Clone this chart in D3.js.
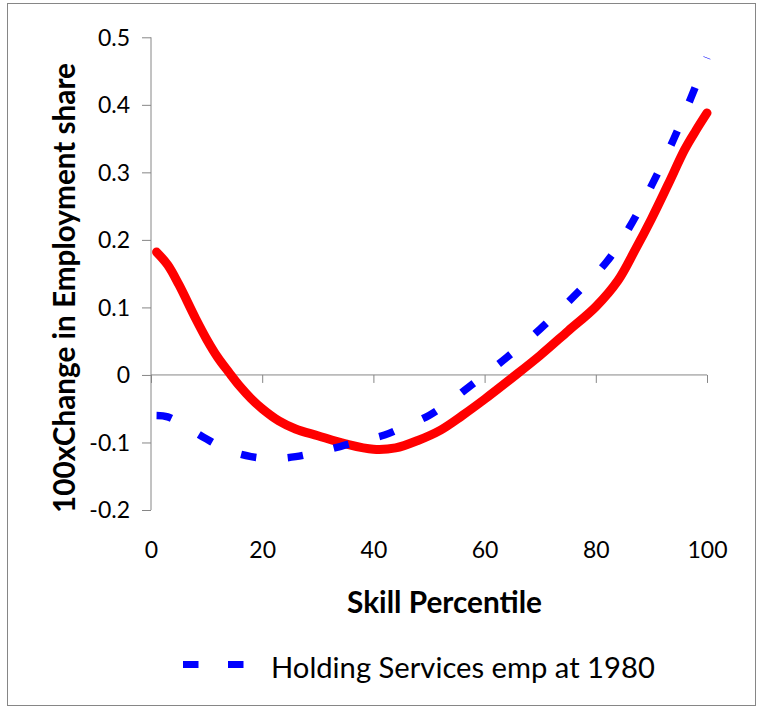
<!DOCTYPE html>
<html>
<head>
<meta charset="utf-8">
<script src="https://cdn.jsdelivr.net/npm/d3@7"></script>
<style>
  html, body { margin: 0; padding: 0; background: #fff; }
  svg { display: block; }
  text { font-family: Lato, "Open Sans", sans-serif; fill: #000; }
</style>
</head>
<body>
<svg id="chart" width="761" height="707"></svg>
<script>
// ---- data ----
const redX = [1, 3, 5, 8, 10, 12, 14, 16, 18, 20, 23, 26, 30, 35, 40, 44, 48, 52, 56, 60, 65, 70, 75, 80, 84, 87, 90, 93, 96, 98, 100];
const redY = [0.182, 0.163, 0.134, 0.084, 0.053, 0.026, 0.004, -0.017, -0.035, -0.050, -0.068, -0.080, -0.090, -0.102, -0.110, -0.108, -0.097, -0.082, -0.060, -0.036, -0.004, 0.029, 0.065, 0.101, 0.140, 0.184, 0.231, 0.282, 0.334, 0.362, 0.388];
const blueX = [1, 3, 6, 10, 14, 18, 22, 26, 30, 34, 38, 42, 46, 50, 54, 57, 60, 64, 70, 76, 82, 86, 90, 94, 97, 100];
const blueY = [-0.060, -0.062, -0.075, -0.095, -0.112, -0.121, -0.124, -0.121, -0.114, -0.106, -0.097, -0.089, -0.075, -0.060, -0.038, -0.019, 0.000, 0.026, 0.068, 0.116, 0.168, 0.218, 0.280, 0.349, 0.408, 0.470];
const xTicks = [0, 20, 40, 60, 80, 100];
const yTicks = [-0.2, -0.1, 0, 0.1, 0.2, 0.3, 0.4, 0.5];
const yTickLabels = ["-0.2", "-0.1", "0", "0.1", "0.2", "0.3", "0.4", "0.5"];
const xTitle = "Skill Percentile";
const yTitle = "100xChange in Employment share";
const legendLabel = "Holding Services emp at 1980";

// ---- layout ----
const svg = d3.select("#chart");
const axisColor = "#868686";
const x = d3.scaleLinear().domain([0, 100]).range([151, 707]);
const y = d3.scaleLinear().domain([-0.2, 0.5]).range([510, 37.3]);

function fitWidth(sel, w) {
  const L = sel.node().getComputedTextLength();
  const fs = parseFloat(sel.attr("font-size"));
  sel.attr("font-size", fs * w / L);
}

// outer border
svg.append("rect").attr("x", 7.5).attr("y", 3.5).attr("width", 748).attr("height", 702)
  .attr("fill", "none").attr("stroke", axisColor).attr("stroke-width", 1);

// y axis
const yAxis = d3.axisLeft(y).tickValues(yTicks).tickSize(9).tickPadding(12)
  .tickFormat((d, i) => yTickLabels[i]);
const gy = svg.append("g").attr("transform", `translate(${x(0)},0)`).call(yAxis);
gy.select(".domain").attr("stroke", axisColor).attr("d", `M-0,${y(0.5)}V${y(-0.2)}`);
gy.selectAll(".tick line").attr("stroke", axisColor);
gy.selectAll(".tick text").attr("font-size", 23).attr("font-family", "Lato").attr("fill", "#000").attr("dy", "0.34em");

// x axis at y = 0, labels below plot
const xAxis = d3.axisBottom(x).tickValues(xTicks).tickSize(8).tickFormat(d3.format("d"));
const gx = svg.append("g").attr("transform", `translate(0,${y(0)})`).call(xAxis);
gx.select(".domain").attr("stroke", axisColor).attr("d", `M${x(0)},0H${x(100)}`);
gx.selectAll(".tick line").attr("stroke", axisColor);
gx.selectAll(".tick text").attr("font-size", 23).attr("font-family", "Lato").attr("fill", "#000")
  .attr("y", 558 - y(0)).attr("dy", 0);

// lines
const redData = redX.map((v, i) => [v, redY[i]]);
const blueData = blueX.map((v, i) => [v, blueY[i]]);
const line = d3.line().x(d => x(d[0])).y(d => y(d[1])).curve(d3.curveCatmullRom.alpha(0.5));

svg.append("path").datum(redData).attr("d", line)
  .attr("fill", "none").attr("stroke", "#ff0000").attr("stroke-width", 9)
  .attr("stroke-linecap", "round").attr("stroke-linejoin", "round");
svg.append("path").datum(blueData).attr("d", line)
  .attr("fill", "none").attr("stroke", "#0000ff").attr("stroke-width", 7.5)
  .attr("stroke-dasharray", "15.5,31.5").attr("stroke-linecap", "butt");

// axis titles
const xt = svg.append("text").attr("x", 444.5).attr("y", 613).attr("text-anchor", "middle")
  .attr("font-weight", "bold").attr("font-size", 24).text(xTitle);
fitWidth(xt, 195);
const yt = svg.append("text").attr("transform", "translate(75,288) rotate(-90)").attr("text-anchor", "middle")
  .attr("font-weight", "bold").attr("font-size", 24).text(yTitle);
fitWidth(yt, 450);

// legend
const lg = svg.append("g");
lg.append("line").attr("x1", 183).attr("x2", 244).attr("y1", 664.5).attr("y2", 664.5)
  .attr("stroke", "#0000ff").attr("stroke-width", 7).attr("stroke-dasharray", "15.5,29.5");
const lt = lg.append("text").attr("x", 271).attr("y", 677.5).attr("font-size", 26).text(legendLabel);
fitWidth(lt, 384);
</script>
</body>
</html>
